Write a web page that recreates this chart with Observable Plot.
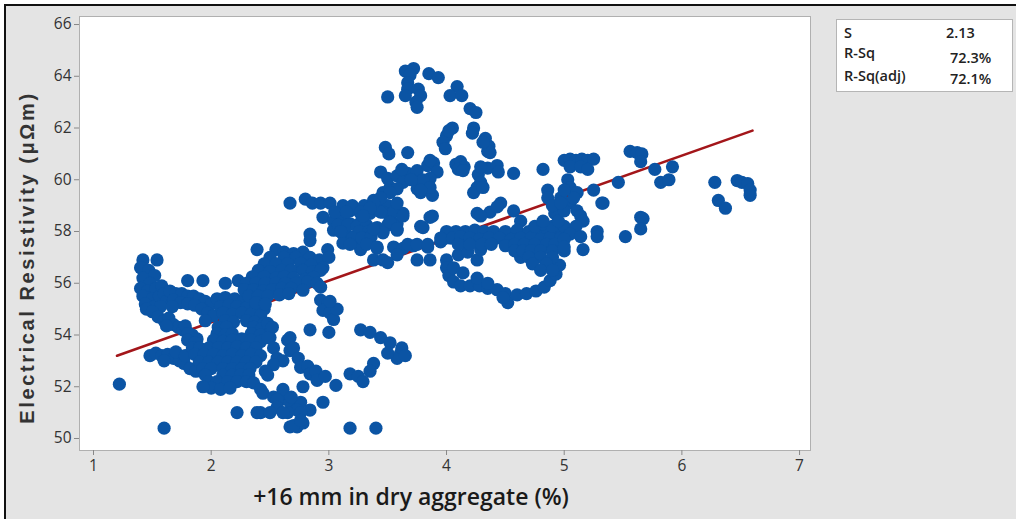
<!DOCTYPE html>
<html><head><meta charset="utf-8">
<script src="https://cdn.jsdelivr.net/npm/d3@7"></script>
<script src="https://cdn.jsdelivr.net/npm/@observablehq/plot@0.6"></script>
<style>
html,body{margin:0;padding:0;background:#fff;}
#page{position:relative;width:1016px;height:519px;overflow:hidden;}
#frame{position:absolute;left:4px;top:4px;right:0;bottom:0;background:#e4e4e4;border-top:2px solid #111;border-left:2px solid #111;}
#chart{position:absolute;left:0;top:0;}
#stats{position:absolute;left:836px;top:19px;width:177px;height:73px;background:#fff;border:1px solid #b5b5b5;box-sizing:border-box;font-family:"Open Sans",sans-serif;font-weight:600;font-size:14.5px;color:#222;}
#stats div{position:absolute;white-space:nowrap;line-height:16px;}
.ylab text{letter-spacing:2.6px;}
</style></head>
<body><div id="page"><div id="frame"></div><div id="chart"></div><div id="stats"></div></div>
<script>
// ---- data ----
const xTicks = [1, 2, 3, 4, 5, 6, 7];
const yTicks = [50, 52, 54, 56, 58, 60, 62, 64, 66];
const xTitle = "+16 mm in dry aggregate (%)";
const yTitle = "Electrical Resistivity (μΩm)";
const statLabels = ["S", "R-Sq", "R-Sq(adj)"];
const statValues = ["2.13", "72.3%", "72.1%"];
const fitX = [1.2, 6.6];
const fitY = [53.2, 61.9];

const lowLeft = [
[1.22,52.1],[1.60,50.4],
[1.42,56.9],[1.54,56.9],[1.40,56.6],[1.47,56.5],[1.52,56.3],[1.42,56.2],[1.48,56.0],[1.40,55.8],[1.46,55.7],[1.53,55.8],[1.42,55.5],[1.50,55.4],[1.44,55.2],[1.52,55.1],[1.45,55.0],[1.56,55.5],[1.58,55.9],[1.60,55.6],[1.62,55.3],[1.57,55.1],[1.50,54.9],
[1.65,55.7],[1.70,55.6],[1.75,55.6],[1.80,55.5],[1.85,55.5],[1.90,55.4],[1.95,55.3],[2.00,55.2],[1.68,55.35],[1.74,55.25],[1.80,55.2],[1.86,55.15],[1.92,55.0],[1.97,54.85],[2.02,54.75],[1.67,55.1],
[1.55,54.7],[1.60,54.55],[1.64,54.65],[1.68,54.4],[1.72,54.3],[1.76,54.2],[1.80,54.1],[1.84,54.0],[1.88,53.85],[1.62,54.35],
[1.48,53.2],[1.53,53.3],[1.58,53.2],[1.63,53.25],[1.68,53.1],[1.73,53.0],[1.77,52.9],[1.82,52.7],[1.87,52.6],[1.60,53.0],[1.70,53.35],[1.78,53.2],
[1.80,56.1],[1.93,56.1],[2.12,56.0],[2.23,56.1]
];

const core = [
[2.05,55.4],[2.12,55.45],[2.20,55.4],[2.28,55.35],[2.36,55.45],[2.44,55.4],
[2.08,55.1],[2.15,55.15],[2.22,55.1],[2.30,55.05],[2.38,55.1],[2.45,55.0],
[2.10,54.85],[2.18,54.8],[2.26,54.85],[2.34,54.8],[2.42,54.75],
[1.95,54.55],[2.12,54.55],[2.19,54.5],[2.30,54.55],[2.37,54.5],[2.45,54.45],
[1.78,54.35],[2.06,54.3],[2.13,54.3],[2.36,54.3],[2.43,54.25],
[1.80,54.05],[2.05,54.05],[2.12,54.0],[2.18,54.05],[2.34,54.05],[2.42,54.0],
[1.80,53.8],[1.86,53.7],[2.02,53.8],[2.10,53.75],[2.18,53.8],[2.26,53.85],[2.34,53.8],[2.42,53.75],
[1.84,53.5],[1.90,53.5],[1.98,53.5],[2.06,53.5],[2.14,53.5],[2.22,53.55],[2.30,53.5],[2.38,53.5],
[1.86,53.25],[1.94,53.25],[2.02,53.25],[2.10,53.2],[2.18,53.25],[2.26,53.2],[2.34,53.25],[2.42,53.2],
[1.90,52.95],[1.98,52.95],[2.06,52.95],[2.14,52.95],[2.22,52.95],[2.30,52.95],[2.38,52.95],
[1.93,52.7],[2.00,52.7],[2.10,52.7],[2.18,52.7],[2.26,52.7],[2.33,52.7],
[1.95,52.45],[2.10,52.45],[2.18,52.45],[2.25,52.45],[2.32,52.45],
[1.98,52.2],[2.05,52.2],[2.14,52.2],[2.22,52.2],[2.30,52.2],
[2.00,51.95],[2.08,51.9],[2.16,51.95],[1.93,52.0],[2.36,52.15]
];

const rise = [
[2.39,57.3],[2.55,57.3],[2.62,57.2],[2.70,57.15],[2.78,57.2],[2.99,57.3],
[2.50,57.0],[2.62,57.0],[2.72,57.0],[2.84,57.0],[2.92,56.9],[3.00,57.0],
[2.45,56.75],[2.55,56.75],[2.65,56.75],[2.76,56.77],[2.85,56.7],[2.95,56.6],
[2.40,56.5],[2.50,56.45],[2.60,56.5],[2.68,56.5],[2.78,56.5],[2.86,56.45],[2.93,56.5],
[2.35,56.25],[2.45,56.25],[2.55,56.2],[2.62,56.25],[2.70,56.2],[2.80,56.15],[2.87,56.23],
[2.30,56.0],[2.38,56.0],[2.46,56.0],[2.55,56.0],[2.63,56.0],[2.72,56.0],[2.82,56.05],[2.90,56.0],
[2.28,55.75],[2.36,55.75],[2.44,55.7],[2.52,55.75],[2.60,55.8],[2.68,55.8],[2.78,55.73],[2.93,55.85],
[2.32,55.5],[2.40,55.5],[2.48,55.5],[2.58,55.55],[2.66,55.6],[2.93,55.35],
[2.38,55.25],[2.46,55.2],[2.99,55.2],[2.95,54.95],[3.01,54.85],[3.04,54.6],[3.07,55.0],[3.01,55.3],
[2.84,57.9],[2.84,57.65]
];

const lowMid = [
[2.48,54.45],[2.50,53.9],[2.52,54.3],[2.48,53.9],[2.53,53.5],[2.56,53.1],[2.65,53.8],[2.67,53.4],[2.61,53.0],[2.53,52.85],[2.46,52.6],[2.48,52.45],
[2.84,54.2],[2.67,53.9],[2.70,53.5],[2.74,53.1],[2.76,52.75],[2.82,52.8],[2.84,52.5],[2.89,52.6],[2.90,52.25],[2.97,52.4],[2.78,52.0],[3.06,52.05],
[3.00,54.1],[3.18,52.5],[3.25,52.4],[3.29,52.2],
[3.27,54.2],[3.35,54.1],[3.44,53.9],[3.52,53.7],[3.61,53.3],[3.58,53.1],[3.50,53.3],[3.38,52.9],[3.35,52.6],[3.62,53.5],[3.65,53.2],
[3.18,50.4],[3.40,50.4],
[2.42,51.9],[2.44,51.75],[2.53,51.6],[2.59,51.5],[2.61,51.75],[2.61,51.9],[2.56,51.5],[2.67,51.4],[2.76,51.4],[2.73,51.1],[2.84,51.1],[2.76,51.0],[2.65,51.0],[2.56,51.2],[2.61,51.0],[2.42,51.0],
[2.22,51.0],[2.39,51.0],[2.50,51.0],
[2.67,50.45],[2.73,50.45],[2.78,50.6],[2.70,50.5],[2.76,50.7],[2.95,51.4],[2.68,51.6]
];

const upper = [
[2.67,59.1],[2.80,59.25],[2.86,59.1],[2.93,59.1],[3.01,59.1],[3.12,59.0],[3.18,58.8],[3.27,58.7],
[2.95,58.55],[3.04,58.4],[3.12,58.55],[3.18,58.3],[3.27,58.35],[3.35,58.7],[3.38,59.2],[3.46,59.5],[3.52,59.7],
[3.04,58.05],[3.12,57.9],[3.18,57.8],[3.12,57.55],[3.24,57.55],[3.27,57.3],
[3.58,58.05],[3.63,58.7],[3.52,58.45],[3.46,58.8],[3.41,58.15],[3.41,57.35],
[3.20,59.0],[3.30,59.0],[3.40,59.0],[3.50,59.0],
[3.05,58.75],[3.15,58.75],[3.27,58.75],[3.46,58.75],[3.55,58.75],
[3.08,58.25],[3.16,58.25],[3.24,58.2],[3.32,58.25],[3.50,58.25],[3.58,58.3],
[3.10,58.0],[3.26,58.0],[3.34,58.0],[3.46,58.0],
[3.20,57.75],[3.28,57.75],[3.36,57.8],[3.18,57.5],[3.32,57.5],
[3.44,58.75],[3.52,58.35],[3.58,58.1],[3.46,57.95],[3.38,58.1],[3.63,58.6],[3.58,59.1],
[3.88,58.6],[3.80,58.15],[3.78,58.2],[3.86,58.55],
[3.41,57.4],[3.55,57.4],[3.63,57.35],[3.72,57.45],[3.84,57.4],[3.95,57.6],[4.03,57.75],[4.14,57.6],[3.67,57.5],[3.75,57.5],[3.84,57.5],[3.97,57.7],
[3.38,56.9],[3.46,56.9],[3.58,57.1],[3.75,56.9],[3.86,56.9],[4.00,56.9],[3.50,56.8]
];

const peak = [
[3.65,64.2],[3.72,64.3],[3.69,64.05],[3.67,63.75],[3.67,63.5],[3.65,63.25],[3.76,63.5],[3.78,63.25],[3.74,63.0],[3.75,62.8],[3.50,63.2],[3.85,64.1],[3.93,63.95],[4.09,63.6],[4.03,63.25],[4.13,63.25],[4.20,62.75],[4.25,62.6],
[4.05,62.0],[4.00,61.7],[3.97,61.45],[3.99,61.2],[4.02,61.9],
[4.23,62.0],[4.22,61.8],[4.33,61.6],[4.36,61.3],[4.37,61.05],[4.35,61.1],[4.31,61.45],
[3.48,61.25],[3.51,61.0],[3.67,61.05],
[4.08,60.6],[4.12,60.7],[4.15,60.5],[4.10,60.4],[4.14,60.35],
[4.35,60.45],[4.27,60.2],[4.29,59.9],[4.26,59.7],[4.23,59.5],[4.31,59.7],[4.29,60.5],
[4.43,60.55],[4.44,60.3],[4.57,60.25],[4.46,59.1],[4.57,58.8],[4.63,58.4],
[3.44,60.3],[3.50,60.05],[3.58,60.15],[3.67,60.25],[3.75,60.35],[3.84,60.55],[3.89,60.65],[3.92,60.3],[3.86,60.05],[3.80,59.9],[3.75,59.65],[3.63,59.9],[3.58,59.65],[3.52,59.5],[3.44,59.3],[3.38,59.1],[3.35,58.9],[3.29,58.6],
[3.78,59.5],[3.88,59.4],[3.80,60.0],[3.86,59.7],[3.78,59.6],[3.70,60.0],[3.62,60.4],[3.86,60.75],
[4.26,58.7],[4.37,58.75],[4.43,58.95],[4.29,58.6]
];

const rightBody = [
[4.00,56.6],[4.02,56.3],[4.06,56.05],[4.12,55.9],[4.14,56.4],[4.10,57.1],[4.18,57.2],[4.06,56.6],
[4.20,55.9],[4.28,55.9],[4.35,55.8],[4.43,55.75],[4.50,55.6],[4.52,55.25],[4.48,55.45],[4.60,55.55],[4.68,55.6],[4.76,55.7],[4.83,55.85],[4.88,56.1],[4.93,56.35],[4.96,56.7],[4.26,56.2],[4.35,56.0],[4.26,56.9],[4.29,57.3],[4.63,57.0],
[4.00,58.0],[4.08,58.0],[4.16,58.0],[4.24,58.05],[4.32,58.0],[4.40,58.0],[4.50,58.0],[4.60,58.05],[4.70,58.0],[4.78,58.0],[4.86,58.0],[4.95,58.0],
[3.95,57.75],[4.05,57.75],[4.12,57.8],[4.20,57.75],[4.28,57.7],[4.36,57.75],[4.45,57.75],[4.55,57.7],[4.63,57.75],[4.72,57.75],[4.80,57.7],[4.88,57.75],[4.97,57.75],
[4.10,57.5],[4.20,57.5],[4.30,57.5],[4.38,57.5],[4.50,57.45],[4.58,57.5],[4.66,57.5],[4.75,57.5],[4.85,57.5],[4.92,57.5],
[4.58,57.25],[4.65,57.25],[4.72,57.25],[4.80,57.25],[4.90,57.25],[5.00,57.25],
[4.70,57.0],[4.80,57.0],[4.90,57.0],[4.73,56.75],[4.85,56.75],[4.80,56.5],[4.90,56.5],
[4.75,58.2],[4.82,58.3],[4.90,58.2],[5.00,58.2],
[5.00,60.75],[5.05,60.8],[5.10,60.75],[5.15,60.8],[5.20,60.75],[5.25,60.8],[5.05,60.5],[5.14,60.5],[5.20,60.4],[5.03,60.0],[5.05,59.7],[5.11,59.5],[4.97,59.3],[5.05,59.1],[5.11,58.8],[5.14,58.6],[5.16,58.4],[5.10,58.2],[5.05,57.9],[5.00,57.7],[5.00,57.4],[4.95,59.0],[4.92,58.7],[4.86,59.6],[4.86,59.3],[4.90,59.0],[4.82,60.4],[5.25,59.6],[5.33,59.1],[5.28,58.0],[5.14,57.8],[5.16,57.3],[4.82,58.4],[4.95,58.4],[5.00,58.8],[5.08,59.3],[4.97,59.1],[5.00,59.6],[5.28,57.8]
];

const farRight = [
[5.56,61.1],[5.62,61.05],[5.66,61.0],[5.65,60.7],[5.77,60.4],[5.92,60.5],[5.82,59.9],[5.89,60.0],[5.46,59.9],[5.32,59.1],[5.65,58.55],[5.67,58.5],[5.65,58.1],[5.52,57.8],
[6.28,59.9],[6.31,59.2],[6.37,58.9],[6.47,59.97],[6.51,59.9],[6.56,59.85],[6.58,59.6],[6.58,59.4]
];

// ---- build ----
const points = [...lowLeft, ...core, ...rise, ...lowMid, ...upper, ...peak, ...rightBody, ...farRight];
const fit = fitX.map((x, i) => ({x, y: fitY[i]}));

const chart = Plot.plot({
  width: 1016, height: 519,
  marginLeft: 79, marginRight: 206, marginTop: 16, marginBottom: 69,
  style: {background: "transparent", fontFamily: "'Open Sans', sans-serif", fontSize: "15.5px", color: "#333", overflow: "visible"},
  x: {domain: [0.881, 7.093]},
  y: {domain: [49.536, 66.31]},
  marks: [
    Plot.frame({fill: "white", stroke: "#b0b0b0"}),
    Plot.line(fit, {x: "x", y: "y", stroke: "#a3161a", strokeWidth: 2.6}),
    Plot.dot(points, {x: d => d[0], y: d => d[1], r: 6.6, fill: "#0b54a4"}),
    Plot.axisX({ticks: xTicks, tickFormat: "d", tickSize: 5, tickPadding: 4, label: null, stroke: "#888", fill: "#333"}),
    Plot.axisY({ticks: yTicks, tickFormat: "d", tickSize: 5, tickPadding: 3, label: null, stroke: "#888", fill: "#333"}),
    Plot.text([xTitle], {frameAnchor: "bottom", lineAnchor: "middle", textAnchor: "middle", dx: -34, dy: 47, fontSize: 23, fontWeight: 600, fill: "#1a1a1a"}),
    Plot.text([yTitle], {frameAnchor: "left", lineAnchor: "middle", textAnchor: "middle", rotate: -90, dx: -52, dy: 24, fontSize: 20, fontWeight: "bold", fill: "#333", fontFamily: "'Liberation Sans', Arial, sans-serif", className: "ylab"})
  ]
});
document.getElementById("chart").appendChild(chart);

const stats = document.getElementById("stats");
const rowTop = [5, 25, 48];
const valShift = [0, 5, 3];
statLabels.forEach((s, i) => {
  const a = document.createElement("div");
  a.textContent = s; a.style.left = "7px"; a.style.top = rowTop[i] + "px";
  stats.appendChild(a);
  const b = document.createElement("div");
  b.textContent = statValues[i]; b.style.left = (i === 0 ? 109 : 113) + "px"; b.style.top = (rowTop[i] + valShift[i]) + "px";
  stats.appendChild(b);
});
</script>
</body></html>
